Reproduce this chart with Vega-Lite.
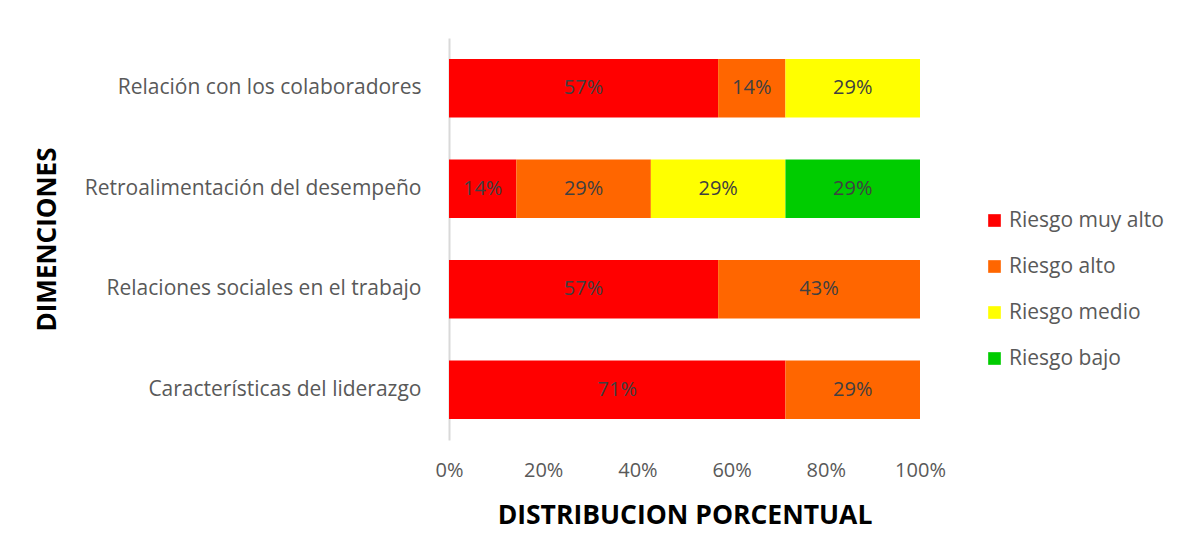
{
  "$schema": "https://vega.github.io/schema/vega-lite/v6.json",
  "autosize": {"type": "none"},
  "padding": {"left": 449, "top": 38, "right": 270, "bottom": 119},
  "width": 471,
  "height": 402,
  "background": "white",
  "data": {"values": [
    {"cat": "Relación con los colaboradores", "riesgo": "Riesgo muy alto", "o": 1, "v": 0.5714},
    {"cat": "Relación con los colaboradores", "riesgo": "Riesgo alto", "o": 2, "v": 0.1429},
    {"cat": "Relación con los colaboradores", "riesgo": "Riesgo medio", "o": 3, "v": 0.2857},
    {"cat": "Retroalimentación del desempeño", "riesgo": "Riesgo muy alto", "o": 1, "v": 0.1429},
    {"cat": "Retroalimentación del desempeño", "riesgo": "Riesgo alto", "o": 2, "v": 0.2857},
    {"cat": "Retroalimentación del desempeño", "riesgo": "Riesgo medio", "o": 3, "v": 0.2857},
    {"cat": "Retroalimentación del desempeño", "riesgo": "Riesgo bajo", "o": 4, "v": 0.2857},
    {"cat": "Relaciones sociales en el trabajo", "riesgo": "Riesgo muy alto", "o": 1, "v": 0.5714},
    {"cat": "Relaciones sociales en el trabajo", "riesgo": "Riesgo alto", "o": 2, "v": 0.4286},
    {"cat": "Características del liderazgo", "riesgo": "Riesgo muy alto", "o": 1, "v": 0.7143},
    {"cat": "Características del liderazgo", "riesgo": "Riesgo alto", "o": 2, "v": 0.2857}
  ]},
  "transform": [
    {"stack": "v", "groupby": ["cat"], "sort": [{"field": "o", "order": "ascending"}], "as": ["v0", "v1"]},
    {"calculate": "(datum.v0 + datum.v1) / 2", "as": "mid"}
  ],
  "encoding": {
    "y": {
      "field": "cat", "type": "nominal",
      "sort": ["Relación con los colaboradores", "Retroalimentación del desempeño", "Relaciones sociales en el trabajo", "Características del liderazgo"],
      "scale": {"paddingInner": 0.42, "paddingOuter": 0.21},
      "axis": {
        "title": "DIMENCIONES", "titleFont": "Open Sans", "titleFontSize": 26, "titleFontWeight": "bold", "titleColor": "#000000",
        "titleX": -402, "titleY": 201, "titleAngle": -90, "titleAlign": "center", "titleBaseline": "middle",
        "labelFont": "Open Sans", "labelFontSize": 21, "labelColor": "#595959", "labelPadding": 28, "labelLimit": 420,
        "ticks": false, "domainColor": "#D9D9D9", "domainWidth": 2, "grid": false
      }
    }
  },
  "layer": [
    {
      "mark": {"type": "bar"},
      "encoding": {
        "x": {
          "field": "v0", "type": "quantitative",
          "scale": {"domain": [0, 1], "nice": false},
          "axis": {
            "title": "DISTRIBUCION PORCENTUAL", "titleFont": "Open Sans", "titleFontSize": 26.5, "titleFontWeight": "bold", "titleColor": "#000000",
            "titlePadding": 22,
            "values": [0, 0.2, 0.4, 0.6, 0.8, 1], "format": ".0%", "labelFlush": false,
            "labelFont": "Open Sans", "labelFontSize": 20, "labelColor": "#595959", "labelPadding": 20,
            "ticks": false, "domain": false, "grid": false
          }
        },
        "x2": {"field": "v1"},
        "color": {
          "field": "riesgo", "type": "nominal",
          "scale": {
            "domain": ["Riesgo muy alto", "Riesgo alto", "Riesgo medio", "Riesgo bajo"],
            "range": ["#FF0000", "#FF6600", "#FFFF00", "#00CC00"]
          },
          "legend": {
            "title": null, "orient": "none", "legendX": 535, "legendY": 172,
            "symbolType": "square", "symbolSize": 160, "symbolStrokeWidth": 0,
            "labelFont": "Open Sans", "labelFontSize": 21, "labelColor": "#595959",
            "rowPadding": 24, "labelOffset": 4
          }
        }
      }
    },
    {
      "mark": {"type": "text", "font": "Open Sans", "fontSize": 20, "color": "#404040"},
      "encoding": {
        "x": {"field": "mid", "type": "quantitative"},
        "text": {"field": "v", "type": "quantitative", "format": ".0%"}
      }
    }
  ],
  "config": {"view": {"stroke": null}}
}
